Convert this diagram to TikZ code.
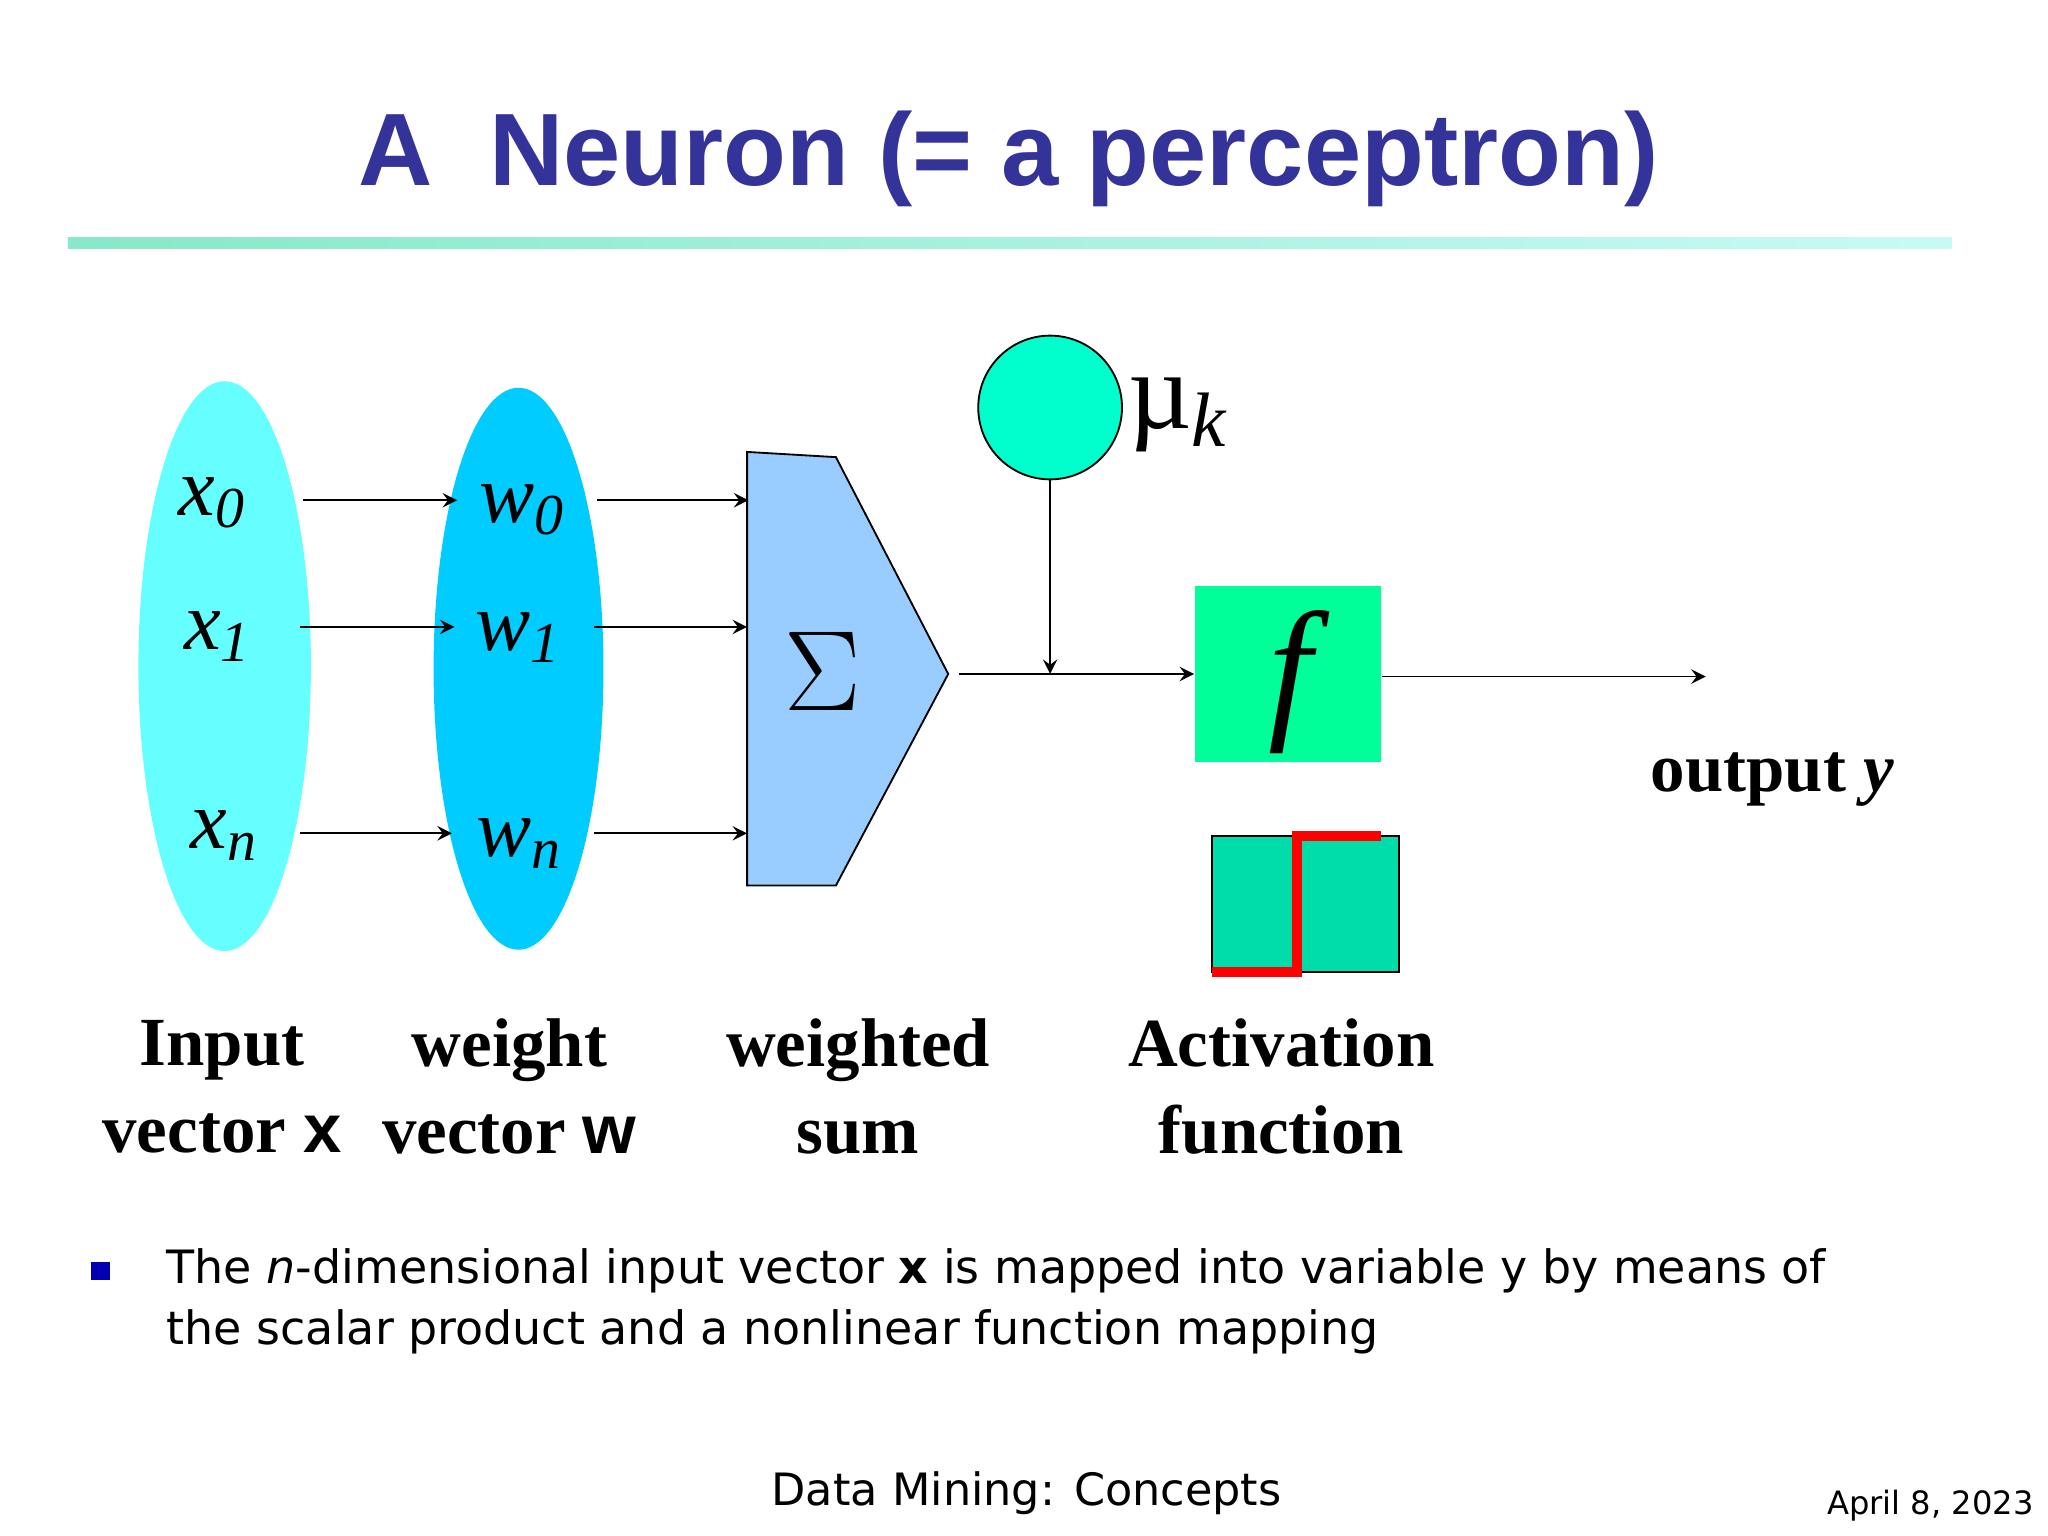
\documentclass[tikz,border=0pt]{standalone}
\usepackage{fontspec}
\setmainfont{Liberation Serif}
\setsansfont{Liberation Sans}
\newfontfamily\bodyfont{DejaVu Sans}
\usetikzlibrary{calc}
\usetikzlibrary{arrows,shapes}
\definecolor{titleblue}{HTML}{333399}
\definecolor{inputcol}{HTML}{66FFFF}
\definecolor{weightcol}{HTML}{00CCFF}
\definecolor{sumcol}{HTML}{99CCFF}
\definecolor{biascol}{HTML}{00FFCC}
\definecolor{actcol}{HTML}{00FF99}
\definecolor{stepcol}{HTML}{00DDAA}
\definecolor{rulestart}{HTML}{88E8C8}
\definecolor{ruleend}{HTML}{C8FAF4}
\tikzset{
  sym/.style={font=\fontsize{18}{22}\selectfont\itshape},
  caption/.style={font=\fontsize{15}{19}\selectfont\bfseries,align=center},
  arr/.style={->,>=stealth,thin}
}
\begin{document}
\begin{tikzpicture}[x=0.01cm,y=-0.01cm]
\useasboundingbox (0,0) rectangle (1568,1176);

  \node[font=\sffamily\bfseries\fontsize{22.4}{27}\selectfont,text=titleblue] (title) at (772,122) {A\ \ Neuron (= a perceptron)};
  \shade[left color=rulestart,right color=ruleend] (52,182) rectangle (1494,190);

    \node[ellipse,fill=inputcol,minimum width=1.32cm,minimum height=4.36cm,inner sep=0] (inp) at (172,510) {};
    \node[ellipse,fill=weightcol,minimum width=1.3cm,minimum height=4.3cm,inner sep=0] (wgt) at (397,512) {};
    \draw[fill=sumcol] (572,346) -- (640,350) -- (726,516) -- (640,678) -- (572,678) -- cycle;
    \node[font=\fontsize{34}{40}\selectfont] (sig) at (630,514) {$\Sigma$};
    \node[circle,draw,fill=biascol,minimum size=1.1cm,inner sep=0] (mu) at (804,312) {};
    \node[font=\fontsize{24}{30}\selectfont] (muk) at (902,318) {µ\textsubscript{\itshape k}};
    \node[fill=actcol,minimum width=1.42cm,minimum height=1.34cm,inner sep=0] (act) at (986,516) {};
    \node[font=\fontsize{34}{40}\selectfont\itshape] (f) at (988,522) {f};
    \draw[fill=stepcol] (928,640) rectangle (1071,744);
    \draw[red,line width=2.2pt] (928,744) -- (993,744) -- (993,640) -- (1057,640);

    \node[sym] (x0) at (163,385) {x\textsubscript{0}};
    \node[sym] (x1) at (167,487) {x\textsubscript{1}};
    \node[sym] (xn) at (172,640) {x\textsubscript{n}};
    \node[sym] (w0) at (400,390) {w\textsubscript{0}};
    \node[sym] (w1) at (397,488) {w\textsubscript{1}};
    \node[sym] (wn) at (398,646) {w\textsubscript{n}};

    \coordinate (s0) at (573,383);
    \coordinate (s1) at (572,480);
    \coordinate (sn) at (572,638);
    \coordinate (sout) at (734,516);
    \coordinate (join) at (804,516);
    \coordinate (yout) at (1306,518);

    \draw[arr] (232,383) -- (350,383);
    \draw[arr] (230,480) -- (348,480);
    \draw[arr] (230,638) -- (346,638);
    \draw[arr] (457,383) -- (s0);
    \draw[arr] (455,480) -- (s1);
    \draw[arr] (455,638) -- (sn);
    \draw[arr] (sout) -- (act.west);
    \draw[arr] (mu.south) -- (join);
    \draw[arr] (act.east |- yout) -- (yout);

    \node[caption] (lin) at (170,832) {Input\\vector {\sffamily\bfseries x}};
    \node[caption] (lw) at (390,832) {weight\\vector {\sffamily\bfseries w}};
    \node[caption] (ls) at (657,832) {weighted\\sum};
    \node[caption] (la) at (981,832) {Activation\\function};
    \node[caption] (ly) at (1357,597) {output \textit{y}};

    \fill[blue!70!black] (70,966) rectangle (84,980);
    \node[font=\bodyfont\fontsize{10}{13.4}\selectfont,anchor=north west,align=left,inner sep=0] (txt) at (127,955) {The \textit{n}-dimensional input vector \textbf{x} is mapped into variable y by means of\\the scalar product and a nonlinear function mapping};
    \node[font=\bodyfont\fontsize{9.7}{12}\selectfont] (foot) at (786,1143) {Data Mining: Concepts};
    \node[font=\bodyfont\fontsize{7}{9}\selectfont] (date) at (1478,1153) {April 8, 2023};
\end{tikzpicture}
\end{document}
